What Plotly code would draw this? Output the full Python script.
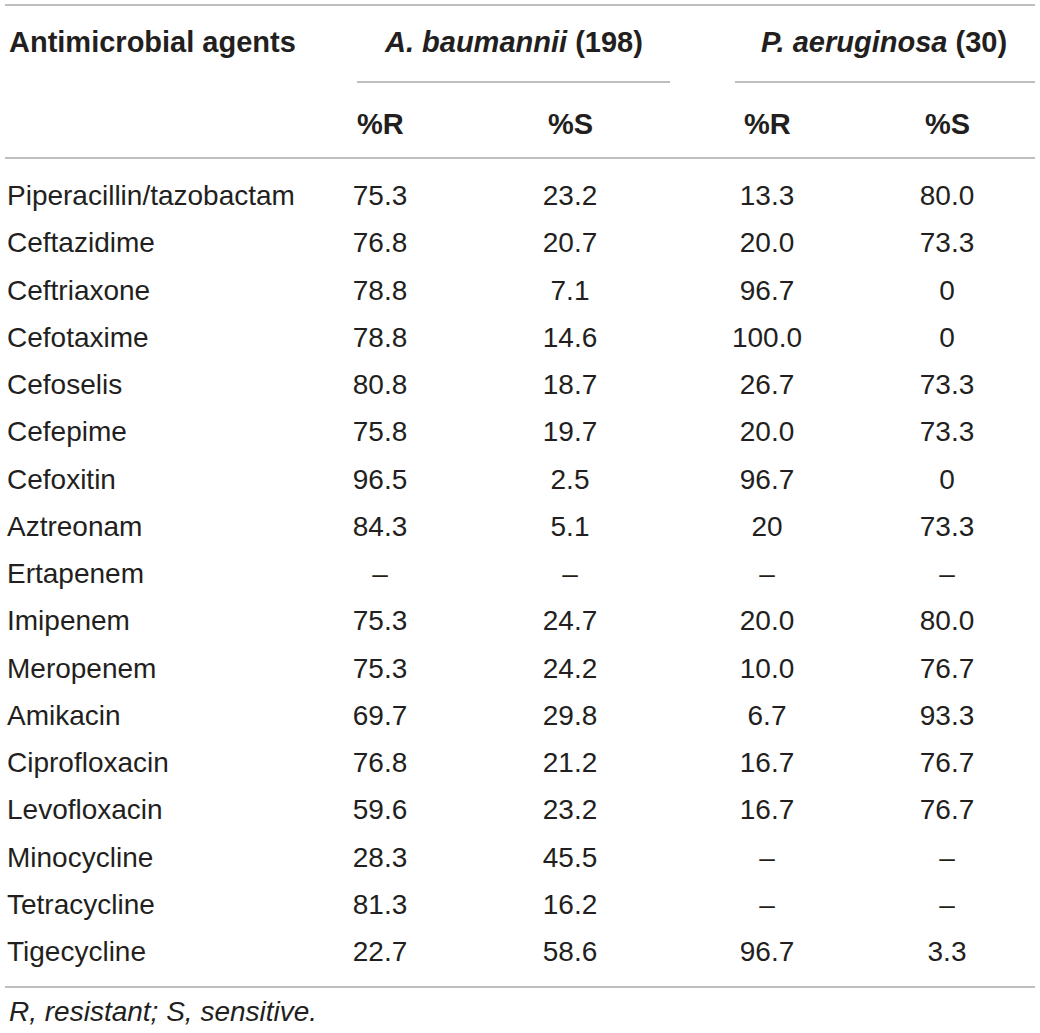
import plotly.graph_objects as go

agents = [
    "Piperacillin/tazobactam", "Ceftazidime", "Ceftriaxone", "Cefotaxime",
    "Cefoselis", "Cefepime", "Cefoxitin", "Aztreonam", "Ertapenem",
    "Imipenem", "Meropenem", "Amikacin", "Ciprofloxacin", "Levofloxacin",
    "Minocycline", "Tetracycline", "Tigecycline",
]
ab_r = ["75.3", "76.8", "78.8", "78.8", "80.8", "75.8", "96.5", "84.3", "–",
        "75.3", "75.3", "69.7", "76.8", "59.6", "28.3", "81.3", "22.7"]
ab_s = ["23.2", "20.7", "7.1", "14.6", "18.7", "19.7", "2.5", "5.1", "–",
        "24.7", "24.2", "29.8", "21.2", "23.2", "45.5", "16.2", "58.6"]
pa_r = ["13.3", "20.0", "96.7", "100.0", "26.7", "20.0", "96.7", "20", "–",
        "20.0", "10.0", "6.7", "16.7", "16.7", "–", "–", "96.7"]
pa_s = ["80.0", "73.3", "0", "0", "73.3", "73.3", "0", "73.3", "–",
        "80.0", "76.7", "93.3", "76.7", "76.7", "–", "–", "3.3"]

group_headers = ["<b><i>A. baumannii</i> (198)</b>", "<b><i>P. aeruginosa</i> (30)</b>"]
sub_headers = ["<b>%R</b>", "<b>%S</b>", "<b>%R</b>", "<b>%S</b>"]
footnote = "<i>R, resistant; S, sensitive.</i>"

# axes read in window pixels (y downwards)
W, H = 1040, 1033
FONT = "Liberation Sans, Arial, sans-serif"
TXT = "#231f20"
RULE = "#a8a8a8"
FS = 28
FS_HEAD = 29

col_x = [380, 570, 767, 947]
row0, step = 198, 47.25
rows_y = [row0 + i * step for i in range(len(agents))]

fig = go.Figure()

fig.add_trace(go.Scatter(
    x=[7] * len(agents), y=rows_y, text=agents, mode="text",
    textposition="middle right", textfont=dict(size=FS, color=TXT, family=FONT),
    hoverinfo="skip", showlegend=False))

for cx, vals in zip(col_x, [ab_r, ab_s, pa_r, pa_s]):
    fig.add_trace(go.Scatter(
        x=[cx] * len(vals), y=rows_y, text=vals, mode="text",
        textposition="middle center", textfont=dict(size=FS, color=TXT, family=FONT),
        hoverinfo="skip", showlegend=False))

# headers
head_font = dict(size=FS_HEAD, color=TXT, family=FONT)
fig.add_annotation(x=7, y=42, text="<b>Antimicrobial agents</b>", xanchor="left", font=head_font)
for cx, t in zip([513, 884], group_headers):
    fig.add_annotation(x=cx, y=42, text=t, xanchor="center", font=head_font)
for cx, t in zip(col_x, sub_headers):
    fig.add_annotation(x=cx, y=124, text=t, xanchor="center", font=head_font)
fig.add_annotation(x=7, y=1011, text=footnote, xanchor="left",
                   font=dict(size=FS, color=TXT, family=FONT))
fig.update_annotations(showarrow=False, yanchor="middle")

# rules
rules = [(5, 1035, 5), (357, 670, 82), (735, 1035, 82), (5, 1035, 158), (5, 1035, 987)]
for x0, x1, yy in rules:
    fig.add_shape(type="line", x0=x0, x1=x1, y0=yy, y1=yy,
                  line=dict(color=RULE, width=1.5))

fig.update_xaxes(range=[0, W], visible=False, fixedrange=True)
fig.update_yaxes(range=[H, 0], visible=False, fixedrange=True)
fig.update_layout(width=W, height=H, margin=dict(l=0, r=0, t=0, b=0),
                  plot_bgcolor="white", paper_bgcolor="white")

# drop the default 8px body margin so the figure fills the window
fig.write_html("out.html", post_script="document.body.style.margin='0';",
               config={"displayModeBar": False})
